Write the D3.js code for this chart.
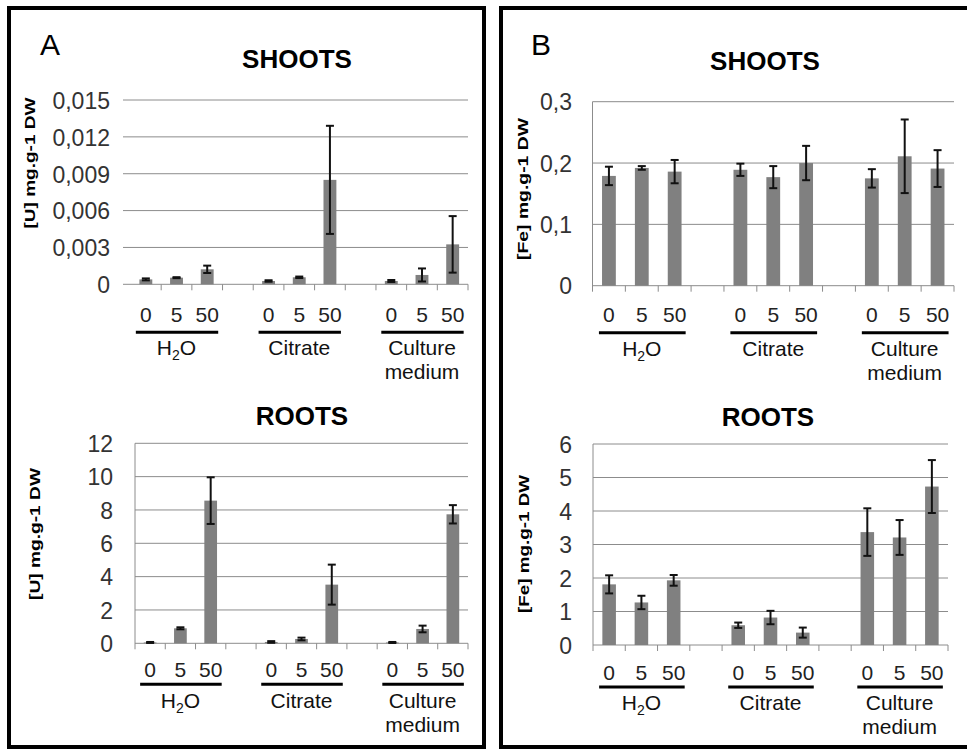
<!DOCTYPE html>
<html>
<head>
<meta charset="utf-8">
<script src="https://cdn.jsdelivr.net/npm/d3@7"></script>
<style>
  body { margin: 0; background: #fff; }
  svg { display: block; font-family: "Liberation Sans", Arial, sans-serif; }
</style>
</head>
<body>
<div id="chart"></div>
<script>
// categories
const doses = ["0", "5", "50"];
const groups = ["H2O", "Citrate", "Culture medium"];

// [U] shoots (mg.g-1 DW)
const uShootsMean = [0.0004, 0.00054, 0.00122, 0.00027, 0.00057, 0.0085, 0.00027, 0.00076, 0.00325];
const uShootsErr  = [0.00008, 0.00004, 0.0003, 0.00006, 0.00006, 0.0044, 0.00008, 0.00053, 0.0023];
const uShootsTicks = [0, 0.003, 0.006, 0.009, 0.012, 0.015];

// [U] roots
const uRootsMean = [0.05, 0.9, 8.56, 0.08, 0.26, 3.52, 0.05, 0.86, 7.74];
const uRootsErr  = [0.03, 0.06, 1.4, 0.05, 0.08, 1.2, 0.03, 0.2, 0.55];
const uRootsTicks = [0, 2, 4, 6, 8, 10, 12];

// [Fe] shoots
const feShootsMean = [0.179, 0.192, 0.186, 0.189, 0.177, 0.2, 0.175, 0.211, 0.191];
const feShootsErr  = [0.015, 0.003, 0.019, 0.01, 0.018, 0.028, 0.015, 0.06, 0.03];
const feShootsTicks = [0, 0.1, 0.2, 0.3];

// [Fe] roots
const feRootsMean = [1.81, 1.27, 1.93, 0.59, 0.82, 0.37, 3.37, 3.21, 4.73];
const feRootsErr  = [0.27, 0.2, 0.16, 0.08, 0.2, 0.15, 0.71, 0.52, 0.79];
const feRootsTicks = [0, 1, 2, 3, 4, 5, 6];

const W = 967, H = 749;
const barColor = "#808080";
const gridColor = "#8c8c8c";

const svg = d3.select("#chart").append("svg")
  .attr("width", W).attr("height", H)
  .attr("viewBox", `0 0 ${W} ${H}`);

// panel frames
svg.append("rect").attr("x", 9).attr("y", 8).attr("width", 475).attr("height", 739)
  .attr("fill", "none").attr("stroke", "#000").attr("stroke-width", 4);
svg.append("rect").attr("x", 501).attr("y", 8).attr("width", 480).attr("height", 739)
  .attr("fill", "none").attr("stroke", "#000").attr("stroke-width", 4);

svg.append("text").attr("x", 40).attr("y", 55).attr("font-size", 30).text("A");
svg.append("text").attr("x", 531).attr("y", 55).attr("font-size", 30).text("B");

// slot keys: 3 doses per group, an empty slot between groups
const slots = [];
groups.forEach((g, gi) => {
  doses.forEach(d => slots.push(g + "|" + d));
  if (gi < groups.length - 1) slots.push("gap" + gi);
});

const commaFmt = d => String(d).replace(".", ",");

const panels = [
  { mean: uShootsMean, err: uShootsErr, ticks: uShootsTicks, label: "[U] mg.g-1 DW", labelLen: 131,
    title: "SHOOTS", x0: 130.5, x1: 468, yT: 100, yB: 284.3, gridX0: 123, yAxisLine: false,
    tickRight: 110, titleX: 297, titleY: 68, labX: 35, labY: 163,
    digitsDy: 38, lineDy: 48, groupDy: 71 },
  { mean: uRootsMean, err: uRootsErr, ticks: uRootsTicks, label: "[U] mg.g-1 DW", labelLen: 132,
    title: "ROOTS", x0: 135, x1: 468, yT: 443.3, yB: 643.3, gridX0: 135, yAxisLine: true,
    tickRight: 113, titleX: 302, titleY: 425, labX: 40, labY: 534,
    digitsDy: 34, lineDy: 41, groupDy: 65 },
  { mean: feShootsMean, err: feShootsErr, ticks: feShootsTicks, label: "[Fe] mg.g-1 DW", labelLen: 142,
    title: "SHOOTS", x0: 592.5, x1: 954, yT: 101.7, yB: 285.7, gridX0: 592.5, yAxisLine: true,
    tickRight: 572, titleX: 765, titleY: 70, labX: 528, labY: 189,
    digitsDy: 36, lineDy: 47, groupDy: 70 },
  { mean: feRootsMean, err: feRootsErr, ticks: feRootsTicks, label: "[Fe] mg.g-1 DW", labelLen: 138,
    title: "ROOTS", x0: 593, x1: 948, yT: 444, yB: 645, gridX0: 593, yAxisLine: true,
    tickRight: 572, titleX: 768, titleY: 426, labX: 529, labY: 544,
    digitsDy: 35, lineDy: 42, groupDy: 65 }
];

panels.forEach(p => drawPanel(p));

function drawPanel(p) {
  const g = svg.append("g");
  const x = d3.scaleBand().domain(slots).range([p.x0, p.x1]).paddingInner(0).paddingOuter(0);
  const y = d3.scaleLinear().domain([0, d3.max(p.ticks)]).range([p.yB, p.yT]);
  const bw = x.bandwidth() * 0.42;

  // gridlines
  g.append("g").selectAll("line").data(p.ticks.slice(1)).join("line")
    .attr("x1", p.gridX0).attr("x2", p.x1)
    .attr("y1", d => y(d)).attr("y2", d => y(d))
    .attr("stroke", gridColor).attr("stroke-width", 1);

  // y axis (labels only)
  const yAxis = d3.axisLeft(y).tickValues(p.ticks).tickSize(0).tickPadding(0)
    .tickFormat(commaFmt);
  const ya = g.append("g").attr("transform", `translate(${p.tickRight},0)`).call(yAxis);
  ya.select(".domain").remove();
  ya.selectAll("text").attr("font-size", 23).attr("fill", "#333")
    .attr("font-family", "Liberation Sans, Arial, sans-serif").attr("dy", "0.36em");

  if (p.yAxisLine) {
    g.append("line").attr("x1", p.x0).attr("x2", p.x0).attr("y1", p.yT).attr("y2", p.yB + 6)
      .attr("stroke", gridColor);
  }

  // x axis line and tick marks at slot boundaries
  g.append("line").attr("x1", p.gridX0).attr("x2", p.x1).attr("y1", p.yB).attr("y2", p.yB)
    .attr("stroke", gridColor);
  const bounds = slots.map(s => x(s) + x.bandwidth());
  g.append("g").selectAll("line").data(bounds).join("line")
    .attr("x1", d => d).attr("x2", d => d).attr("y1", p.yB).attr("y2", p.yB + 6)
    .attr("stroke", gridColor);

  // bars
  const rows = [];
  groups.forEach((gr, gi) => doses.forEach((d, di) => {
    const i = gi * 3 + di;
    rows.push({ key: gr + "|" + d, dose: d, v: p.mean[i], e: p.err[i] });
  }));

  g.append("g").selectAll("rect").data(rows).join("rect")
    .attr("x", d => x(d.key) + (x.bandwidth() - bw) / 2)
    .attr("width", bw)
    .attr("y", d => y(d.v))
    .attr("height", d => y(0) - y(d.v))
    .attr("fill", barColor);

  // error bars
  const eb = g.append("g").attr("stroke", "#111").attr("stroke-width", 2);
  const cx = d => x(d.key) + x.bandwidth() / 2;
  eb.selectAll("line.v").data(rows).join("line").attr("class", "v")
    .attr("x1", cx).attr("x2", cx)
    .attr("y1", d => y(d.v + d.e)).attr("y2", d => y(Math.max(0, d.v - d.e)));
  eb.selectAll("line.t").data(rows).join("line").attr("class", "t")
    .attr("x1", d => cx(d) - 4).attr("x2", d => cx(d) + 4)
    .attr("y1", d => y(d.v + d.e)).attr("y2", d => y(d.v + d.e));
  eb.selectAll("line.b").data(rows).join("line").attr("class", "b")
    .attr("x1", d => cx(d) - 4).attr("x2", d => cx(d) + 4)
    .attr("y1", d => y(Math.max(0, d.v - d.e))).attr("y2", d => y(Math.max(0, d.v - d.e)));

  // dose labels
  g.append("g").selectAll("text").data(rows).join("text")
    .attr("x", cx).attr("y", p.yB + p.digitsDy)
    .attr("text-anchor", "middle").attr("font-size", 21).attr("fill", "#222")
    .text(d => d.dose);

  // group underlines and names
  groups.forEach((gr, gi) => {
    const first = x(gr + "|" + doses[0]) + x.bandwidth() / 2;
    const last = x(gr + "|" + doses[2]) + x.bandwidth() / 2;
    const mid = x(gr + "|" + doses[1]) + x.bandwidth() / 2;
    g.append("line").attr("x1", first - 10).attr("x2", last + 11)
      .attr("y1", p.yB + p.lineDy).attr("y2", p.yB + p.lineDy)
      .attr("stroke", "#000").attr("stroke-width", 3);
    const t = g.append("text").attr("x", mid).attr("y", p.yB + p.groupDy)
      .attr("text-anchor", "middle").attr("font-size", 21).attr("fill", "#111");
    if (gr === "H2O") {
      t.append("tspan").text("H");
      t.append("tspan").attr("font-size", 14).attr("dy", 5).text("2");
      t.append("tspan").attr("dy", -5).text("O");
    } else if (gr === "Culture medium") {
      t.append("tspan").attr("x", mid).text("Culture");
      t.append("tspan").attr("x", mid).attr("dy", 24).text("medium");
    } else {
      t.text(gr);
    }
  });

  // title
  g.append("text").attr("x", p.titleX).attr("y", p.titleY)
    .attr("text-anchor", "middle").attr("font-size", 26).attr("font-weight", "bold")
    .text(p.title);

  // y axis label
  g.append("text")
    .attr("transform", `translate(${p.labX},${p.labY}) rotate(-90)`)
    .attr("text-anchor", "middle").attr("font-size", 14).attr("font-weight", "bold")
    .attr("textLength", p.labelLen).attr("lengthAdjust", "spacingAndGlyphs")
    .text(p.label);
}
</script>
</body>
</html>
